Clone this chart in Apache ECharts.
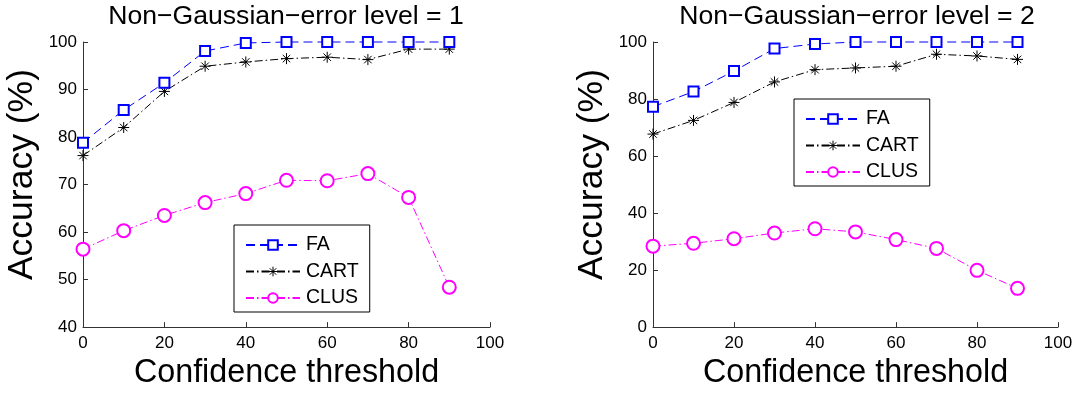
<!DOCTYPE html>
<html>
<head>
<meta charset="utf-8">
<script src="https://cdn.jsdelivr.net/npm/echarts@6/dist/echarts.min.js"></script>
<style>
  html, body { margin: 0; padding: 0; background: #fff; }
  #chart { width: 1081px; height: 394px; }
</style>
</head>
<body>
<div id="chart"></div>
<script>
// Confidence thresholds shared by both panels
const thresholds = [0, 10, 20, 30, 40, 50, 60, 70, 80, 90];

// Panel 1: non-Gaussian-error level = 1
const faLevel1   = [78.8, 85.7, 91.4, 98.1, 99.8, 100, 100, 100, 100, 100];
const cartLevel1 = [76.1, 82.0, 89.6, 94.9, 95.8, 96.5, 96.8, 96.3, 98.5, 98.5];
const clusLevel1 = [56.4, 60.3, 63.5, 66.2, 68.1, 70.9, 70.8, 72.3, 67.3, 48.4];

// Panel 2: non-Gaussian-error level = 2
const faLevel2   = [77.3, 82.6, 89.8, 97.7, 99.3, 100, 100, 100, 100, 100];
const cartLevel2 = [67.7, 72.5, 78.8, 86.0, 90.3, 90.9, 91.5, 95.7, 95.1, 93.9];
const clusLevel2 = [28.4, 29.4, 31.0, 33.0, 34.5, 33.4, 30.7, 27.6, 19.9, 13.6];

const panelTitles = ['Non\u2212Gaussian\u2212error level = 1', 'Non\u2212Gaussian\u2212error level = 2'];
const xTicks = { min: 0, max: 100, interval: 20 };
const yTicks = [{ min: 40, max: 100, interval: 10 }, { min: 0, max: 100, interval: 20 }];

const FONT = '"Liberation Sans", Arial, Helvetica, sans-serif';
const AXIS_COLOR = '#333';

// Asterisk marker: "+" and "x" overlaid, stroked
const ASTERISK = 'path://M5,0L5,10M0,5L10,5M1.6,1.6L8.4,8.4M8.4,1.6L1.6,8.4';

const pairs = vals => thresholds.map((t, i) => [t, vals[i]]);

const styles = {
  FA:   { color: '#0000ff', symbol: 'emptyRect',   size: 10, dash: [9, 5] },
  CART: { color: '#000000', symbol: ASTERISK,      size: 11, dash: [8, 3, 1.5, 3] },
  CLUS: { color: '#ff00ff', symbol: 'emptyCircle', size: 13, dash: [8, 3, 1.5, 3] }
};

function markerStyle(name) {
  const s = styles[name];
  return name === 'CART'
    ? { color: 'none', borderColor: s.color, borderWidth: 1 }
    : { color: s.color, borderColor: s.color, borderWidth: 1 };
}

function makeSeries(name, vals, gridIdx) {
  const s = styles[name];
  return {
    name: name,
    type: 'line',
    xAxisIndex: gridIdx,
    yAxisIndex: gridIdx,
    data: pairs(vals),
    symbol: s.symbol,
    symbolSize: s.size,
    showAllSymbol: true,
    clip: false,
    lineStyle: { color: s.color, width: 1, type: s.dash },
    itemStyle: markerStyle(name),
    emphasis: { disabled: true },
    z: name === 'FA' ? 3 : 2
  };
}

const grids = [
  { left: 83, top: 42, width: 407, height: 287 },
  { left: 653, top: 42, width: 405, height: 287 }
];

function xAxis(gridIdx) {
  return {
    type: 'value', gridIndex: gridIdx,
    min: xTicks.min, max: xTicks.max, interval: xTicks.interval,
    name: 'Confidence threshold', nameLocation: 'middle', nameGap: 27,
    nameTextStyle: { fontFamily: FONT, fontSize: 32.3, color: '#000' },
    axisLine: { show: true, lineStyle: { color: AXIS_COLOR, width: 1 } },
    axisTick: { show: true, inside: true, length: 5, lineStyle: { color: AXIS_COLOR } },
    axisLabel: { fontFamily: FONT, fontSize: 17, color: '#000', margin: 8 },
    splitLine: { show: false }
  };
}

function yAxis(gridIdx) {
  const t = yTicks[gridIdx];
  return {
    type: 'value', gridIndex: gridIdx,
    min: t.min, max: t.max, interval: t.interval,
    name: 'Accuracy (%)', nameLocation: 'middle', nameGap: 43,
    nameTextStyle: { fontFamily: FONT, fontSize: 35.5, color: '#000', padding: [0, 0, 0, 20] },
    axisLine: { show: true, lineStyle: { color: AXIS_COLOR, width: 1 } },
    axisTick: { show: true, inside: true, length: 5, lineStyle: { color: AXIS_COLOR } },
    axisLabel: { fontFamily: FONT, fontSize: 17, color: '#000', margin: 6 },
    splitLine: { show: false }
  };
}

function legend(left, top) {
  return {
    left: left, top: top, orient: 'vertical',
    data: ['FA', 'CART', 'CLUS'].map(n => ({ name: n, itemStyle: markerStyle(n) })),
    backgroundColor: '#fff', borderColor: '#000', borderWidth: 1, borderRadius: 0,
    padding: [10, 11, 4, 11],
    itemWidth: 54, itemHeight: 12, itemGap: 6.5,
    selectedMode: false,
    textStyle: { fontFamily: FONT, fontSize: 19.5, color: '#000', padding: [0, 0, 0, 1] }
  };
}

const titleStyle = { fontFamily: FONT, fontSize: 26.6, fontWeight: 'normal', color: '#000' };

const chart = echarts.init(document.getElementById('chart'), null, { renderer: 'canvas' });
chart.setOption({
  backgroundColor: '#fff',
  animation: false,
  title: [
    { text: panelTitles[0], left: 281, top: -1.5, textAlign: 'center', textStyle: titleStyle },
    { text: panelTitles[1], left: 852, top: -1.5, textAlign: 'center', textStyle: titleStyle }
  ],
  grid: grids,
  xAxis: [xAxis(0), xAxis(1)],
  yAxis: [yAxis(0), yAxis(1)],
  legend: [legend(234, 225), legend(794, 99)],
  series: [
    makeSeries('FA', faLevel1, 0),
    makeSeries('CART', cartLevel1, 0),
    makeSeries('CLUS', clusLevel1, 0),
    makeSeries('FA', faLevel2, 1),
    makeSeries('CART', cartLevel2, 1),
    makeSeries('CLUS', clusLevel2, 1)
  ]
});
</script>
</body>
</html>
